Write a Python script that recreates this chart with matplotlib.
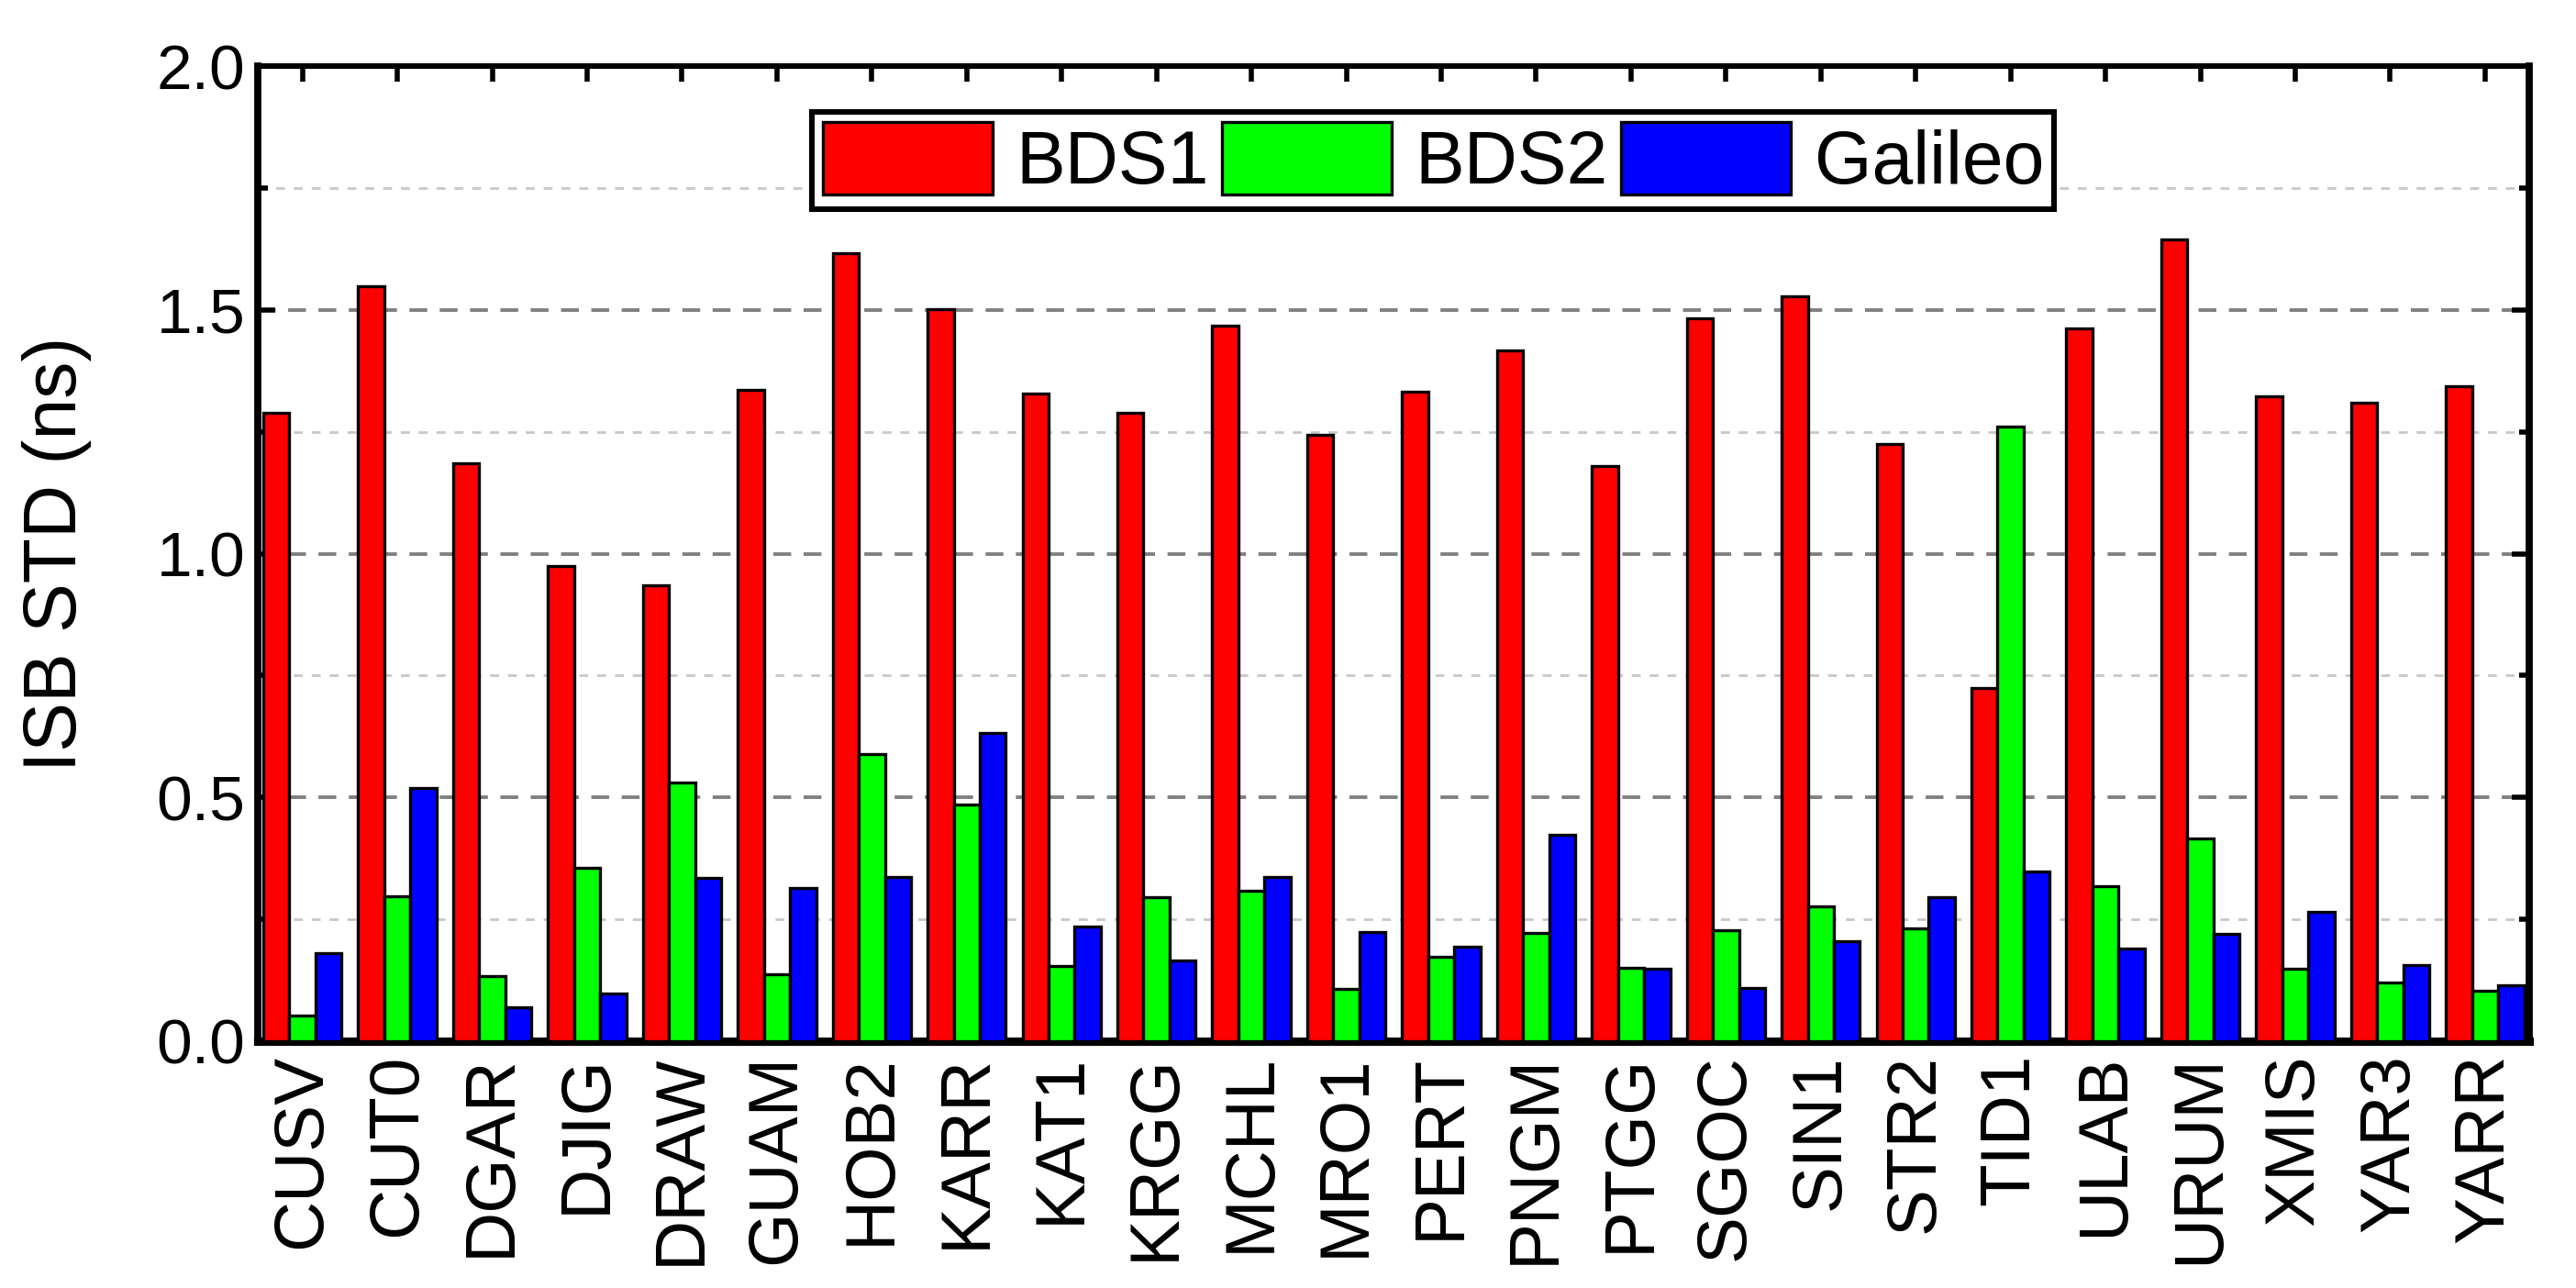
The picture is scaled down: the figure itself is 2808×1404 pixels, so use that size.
import numpy as np
import matplotlib.pyplot as plt
from matplotlib.ticker import MultipleLocator, FormatStrFormatter

plt.rcParams['font.family'] = ['Liberation Sans', 'DejaVu Sans']

stations = ['CUSV', 'CUT0', 'DGAR', 'DJIG', 'DRAW', 'GUAM', 'HOB2', 'KARR',
            'KAT1', 'KRGG', 'MCHL', 'MRO1', 'PERT', 'PNGM', 'PTGG', 'SGOC',
            'SIN1', 'STR2', 'TID1', 'ULAB', 'URUM', 'XMIS', 'YAR3', 'YARR']

bds1 = [1.288, 1.549, 1.186, 0.975, 0.935, 1.335, 1.617, 1.501,
        1.329, 1.288, 1.467, 1.243, 1.333, 1.417, 1.179, 1.483,
        1.528, 1.224, 0.724, 1.462, 1.645, 1.323, 1.309, 1.344]
bds2 = [0.052, 0.297, 0.134, 0.355, 0.530, 0.138, 0.588, 0.486,
        0.154, 0.295, 0.309, 0.108, 0.174, 0.222, 0.150, 0.228,
        0.277, 0.231, 1.261, 0.318, 0.416, 0.149, 0.120, 0.104]
galileo = [0.180, 0.520, 0.069, 0.097, 0.334, 0.314, 0.336, 0.633,
           0.236, 0.165, 0.336, 0.223, 0.194, 0.424, 0.149, 0.109,
           0.206, 0.296, 0.349, 0.190, 0.221, 0.265, 0.156, 0.115]

series = [('BDS1', bds1, '#FF0000'),
          ('BDS2', bds2, '#00FF00'),
          ('Galileo', galileo, '#0000FF')]

fig = plt.figure(figsize=(14.04, 7.02), dpi=200)
ax = fig.add_axes([0.1001, 0.1916, 0.8819, 0.7571])

x = np.arange(len(stations))
w = 0.275
for i, (name, vals, col) in enumerate(series):
    ax.bar(x + (i - 1) * w, vals, width=w, color=col, edgecolor='black',
           linewidth=1.2, label=name, zorder=3)

# grid: major dark dashed, minor light dashed
for yv in [0.5, 1.0, 1.5]:
    ax.axhline(yv, color='#808080', lw=1.4, ls=(0, (5, 3.5)), zorder=1)
for yv in [0.25, 0.75, 1.25, 1.75]:
    ax.axhline(yv, color='#c8c8c8', lw=1.0, ls=(0, (3.5, 3.5)), zorder=1)

ax.set_xlim(-0.47, len(stations) - 0.53)
ax.set_ylim(0, 2.0)
ax.yaxis.set_major_locator(MultipleLocator(0.5))
ax.yaxis.set_minor_locator(MultipleLocator(0.25))
ax.yaxis.set_major_formatter(FormatStrFormatter('%.1f'))

ax.set_xticks(x)
ax.set_xticklabels(stations, rotation=90, fontsize=27.5)
ax.tick_params(axis='x', which='both', direction='in', bottom=False, top=True,
               length=6, width=2, pad=5)
ax.tick_params(axis='y', which='major', direction='in', left=True, right=True,
               length=7, width=2, labelsize=25, pad=5)
ax.tick_params(axis='y', which='minor', direction='in', left=True, right=True,
               length=4, width=2)

ax.spines['left'].set_linewidth(2.8)
ax.spines['right'].set_linewidth(2.8)
ax.spines['top'].set_linewidth(2.2)
ax.spines['bottom'].set_linewidth(3.3)

ax.set_ylabel('ISB STD (ns)', fontsize=29)
ax.yaxis.set_label_coords(-0.073, 0.5)

leg = ax.legend(loc='upper left', bbox_to_anchor=(0.244, 0.953), ncol=3,
                fontsize=29, frameon=True, fancybox=False, edgecolor='black',
                framealpha=1, handlelength=2.3, handleheight=1.12,
                handletextpad=0.32, columnspacing=0.17, borderpad=0.14,
                borderaxespad=0)
leg.get_frame().set_linewidth(2.2)
leg.set_zorder(5)

fig.savefig('out.png', dpi=200)
